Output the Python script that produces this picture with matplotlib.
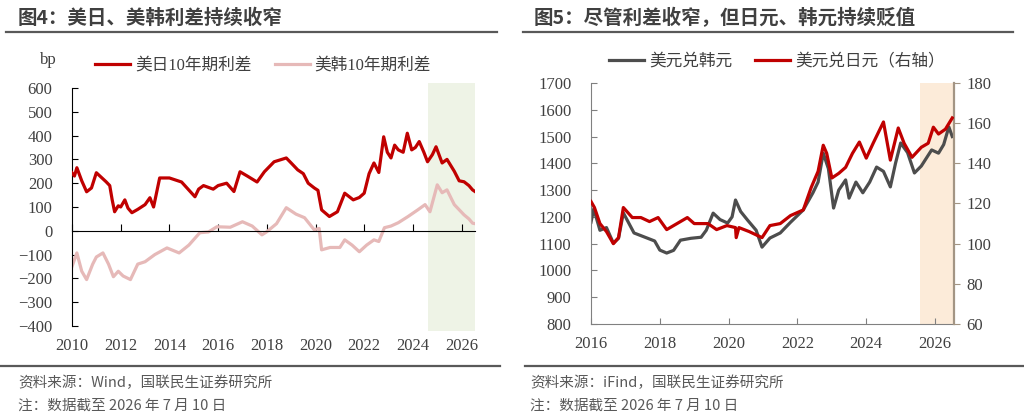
import matplotlib.pyplot as plt
import numpy as np
from matplotlib.lines import Line2D

plt.rcParams['font.family'] = ['Liberation Serif', 'Noto Sans CJK SC']
CJK = ['Noto Sans CJK SC', 'DejaVu Sans']

# ---- left chart data: 10y spreads (bp) ----
us_jp_t = [2010.0, 2010.1, 2010.2, 2010.4, 2010.6, 2010.8, 2011.0, 2011.2, 2011.4, 2011.55,
           2011.65, 2011.75, 2011.9, 2012.0, 2012.17, 2012.3, 2012.46, 2012.7, 2013.0, 2013.2,
           2013.35, 2013.6, 2014.0, 2014.5, 2015.05, 2015.2, 2015.4, 2015.8, 2016.0, 2016.35,
           2016.65, 2016.9, 2017.2, 2017.6, 2017.9, 2018.3, 2018.8, 2019.0, 2019.27, 2019.5,
           2019.7, 2019.95, 2020.1, 2020.25, 2020.57, 2020.9, 2021.2, 2021.55, 2021.8, 2022.0,
           2022.2, 2022.4, 2022.6, 2022.8, 2022.95, 2023.1, 2023.25, 2023.4, 2023.6, 2023.77,
           2023.95, 2024.1, 2024.26, 2024.45, 2024.6, 2024.8, 2024.95, 2025.2, 2025.4, 2025.7,
           2025.9, 2026.1, 2026.3, 2026.45, 2026.55]
us_jp = [244, 230, 265, 210, 164, 180, 244, 225, 206, 190,
         130, 80, 105, 100, 130, 95, 76, 90, 110, 139,
         100, 222, 222, 205, 143, 175, 190, 175, 190, 200,
         165, 248, 230, 205, 248, 290, 306, 285, 256, 240,
         200, 180, 170, 88, 60, 80, 158, 130, 140, 158,
         240, 285, 245, 395, 330, 306, 360, 340, 330, 410,
         340, 350, 375, 330, 290, 320, 353, 285, 300, 250,
         210, 206, 190, 172, 165]

us_kr_t = [2010.0, 2010.2, 2010.4, 2010.6, 2010.85, 2011.0, 2011.27, 2011.5, 2011.7, 2011.9,
           2012.1, 2012.4, 2012.7, 2013.0, 2013.4, 2013.9, 2014.4, 2014.8, 2015.25, 2015.6,
           2015.95, 2016.5, 2017.0, 2017.4, 2017.8, 2018.0, 2018.4, 2018.8, 2019.2, 2019.55,
           2019.95, 2020.15, 2020.25, 2020.6, 2021.0, 2021.2, 2021.5, 2021.8, 2022.1, 2022.4,
           2022.6, 2022.83, 2023.1, 2023.4, 2023.8, 2024.2, 2024.5, 2024.7, 2025.0, 2025.2,
           2025.4, 2025.7, 2026.1, 2026.3, 2026.45, 2026.55]
us_kr = [-150, -93, -170, -205, -140, -110, -93, -140, -193, -170,
         -190, -205, -140, -130, -100, -72, -93, -60, -8, -5,
         17, 15, 38, 20, -17, -4, 30, 97, 70, 55,
         4, 10, -80, -70, -70, -38, -60, -88, -60, -38,
         -45, 13, 20, 34, 60, 88, 110, 80, 193, 160,
         172, 110, 67, 50, 32, 30]

# ---- right chart data: FX ----
krw_t = [2016.0, 2016.08, 2016.26, 2016.45, 2016.65, 2016.8, 2016.94, 2017.25, 2017.65, 2017.85,
         2018.0, 2018.2, 2018.4, 2018.6, 2018.9, 2019.2, 2019.35, 2019.55, 2019.75, 2019.97,
         2020.1, 2020.2, 2020.35, 2020.55, 2020.8, 2020.97, 2021.2, 2021.5, 2021.8, 2022.17,
         2022.45, 2022.6, 2022.75, 2022.9, 2023.05, 2023.2, 2023.4, 2023.5, 2023.7, 2023.9,
         2024.1, 2024.3, 2024.5, 2024.7, 2024.85, 2025.0, 2025.2, 2025.4, 2025.6, 2025.9,
         2026.1, 2026.25, 2026.4, 2026.5]
krw = [1180, 1230, 1150, 1160, 1102, 1120, 1215, 1140, 1120, 1110,
       1076, 1065, 1075, 1113, 1120, 1124, 1150, 1214, 1190, 1177,
       1200, 1263, 1220, 1188, 1150, 1087, 1121, 1140, 1180, 1226,
       1290, 1330, 1438, 1380, 1233, 1300, 1338, 1270, 1330, 1290,
       1330, 1386, 1370, 1312, 1400, 1476, 1440, 1364, 1390, 1450,
       1438, 1470, 1536, 1500]

jpy_t = [2016.0, 2016.1, 2016.26, 2016.45, 2016.65, 2016.8, 2016.94, 2017.2, 2017.45, 2017.7,
         2017.95, 2018.2, 2018.5, 2018.8, 2019.0, 2019.4, 2019.65, 2019.95, 2020.2, 2020.22,
         2020.3, 2020.6, 2020.97, 2021.2, 2021.5, 2021.8, 2022.17, 2022.4, 2022.6, 2022.75,
         2022.85, 2023.0, 2023.2, 2023.4, 2023.6, 2023.8, 2024.0, 2024.2, 2024.5, 2024.7,
         2024.93, 2025.1, 2025.33, 2025.6, 2025.8, 2025.95, 2026.1, 2026.3, 2026.5]
jpy = [121, 118, 110, 106, 100, 103, 118, 113, 113, 111,
       113, 107, 110, 113, 110, 110, 107, 109, 108, 103,
       108, 106, 103, 109, 110, 114, 116.8, 128, 136, 149,
       145, 132.7, 135, 138, 145, 150.6, 142.6, 150, 160.6, 141.6,
       157.6, 150, 143, 148, 150, 158, 154.6, 157, 162.6]

RED = '#C00000'
PINK = '#E6B9B8'
GRAY = '#4D4D4D'
TXT = '#404040'
FS = 12

fig = plt.figure(figsize=(10.24, 4.2), dpi=100)

# ---------- left chart ----------
ax = fig.add_axes([72 / 1024, 94 / 420, 403 / 1024, 238 / 420])
ax.axvspan(2024.6, 2026.55, ymin=-0.02, ymax=1.02, color='#EEF3E6', lw=0, zorder=0, clip_on=False)
l1, = ax.plot(us_jp_t, us_jp, color=RED, lw=2.3, label='美日10年期利差', zorder=3)
l2, = ax.plot(us_kr_t, us_kr, color=PINK, lw=2.3, label='美韩10年期利差', zorder=2)
ax.set_xlim(2010, 2026.55)
ax.set_ylim(-400, 600)
ax.set_yticks(range(-400, 601, 100))
ax.spines['top'].set_visible(False)
ax.spines['right'].set_visible(False)
ax.spines['bottom'].set_position(('data', 0))
ax.spines['left'].set_color('black')
ax.set_xticks(range(2010, 2027, 2))
ax.tick_params(axis='x', direction='in', length=5, labelbottom=False, color='black')
ax.tick_params(axis='y', direction='in', length=4, pad=14, labelsize=FS, labelcolor=TXT)
sec = ax.secondary_xaxis('bottom')
sec.spines['bottom'].set_visible(False)
sec.set_xticks(range(2010, 2027, 2))
sec.tick_params(length=0, pad=9, labelsize=FS, labelcolor=TXT)
fig.text(48 / 1024, 1 - 60 / 420, 'bp', fontsize=FS, color=TXT, ha='center', va='center')
fig.legend(handles=[l1, l2], loc='center left', bbox_to_anchor=(80 / 1024, 1 - 66 / 420),
           ncol=2, frameon=False, fontsize=FS, handlelength=2.1, handletextpad=0.3,
           columnspacing=1.4, labelcolor=TXT)

# ---------- right chart ----------
bx = fig.add_axes([591 / 1024, 96 / 420, 363 / 1024, 241 / 420])
bx.axvspan(2025.55, 2026.55, color='#FCEBD9', lw=0, zorder=0)
g1, = bx.plot(krw_t, krw, color=GRAY, lw=2.3, label='美元兑韩元', zorder=2)
bx.set_xlim(2016, 2026.55)
bx.set_ylim(800, 1700)
bx.set_yticks(range(800, 1701, 100))
bx.set_xticks(range(2016, 2027, 2))
bx.spines['top'].set_visible(False)
bx.spines['right'].set_visible(False)
bx.spines['left'].set_color('#808080')
bx.spines['bottom'].set_color('#808080')
bx.tick_params(axis='x', direction='in', length=4, pad=9, labelsize=FS, labelcolor=TXT, color='#808080')
bx.tick_params(axis='y', direction='in', length=4, pad=14, labelsize=FS, labelcolor=TXT, color='#808080')
bx2 = bx.twinx()
g2, = bx2.plot(jpy_t, jpy, color=RED, lw=2.3, label='美元兑日元（右轴）', zorder=3)
bx2.set_ylim(60, 180)
bx2.set_yticks(range(60, 181, 20))
for s in ['top', 'left', 'bottom']:
    bx2.spines[s].set_visible(False)
bx2.spines['right'].set_color('#A39584')
bx2.spines['right'].set_linewidth(1.6)
bx2.tick_params(axis='y', direction='out', length=4, pad=5, labelsize=FS, labelcolor=TXT, color='#A39584')
fig.legend(handles=[g1, g2], loc='center left', bbox_to_anchor=(594 / 1024, 1 - 62 / 420),
           ncol=2, frameon=False, fontsize=FS, handlelength=2.1, handletextpad=0.3,
           columnspacing=1.4, labelcolor=TXT)

# ---------- titles, rules, footers ----------
fig.text(18 / 1024, 1 - 18 / 420, '图4：美日、美韩利差持续收窄', family=CJK, fontsize=14,
         fontweight='bold', color=TXT, va='center', ha='left')
fig.text(534 / 1024, 1 - 18 / 420, '图5：尽管利差收窄，但日元、韩元持续贬值', family=CJK, fontsize=14,
         fontweight='bold', color=TXT, va='center', ha='left')
for x0, x1 in [(6, 497), (523, 1013)]:
    fig.add_artist(Line2D([x0 / 1024, x1 / 1024], [1 - 32 / 420] * 2, transform=fig.transFigure,
                          color='#595959', lw=1.6))
for x0, x1 in [(0, 500), (525, 1024)]:
    fig.add_artist(Line2D([x0 / 1024, x1 / 1024], [1 - 366 / 420] * 2, transform=fig.transFigure,
                          color='#595959', lw=1.6))
foot = [(18, '资料来源：Wind，国联民生证券研究所'), (530, '资料来源：iFind，国联民生证券研究所')]
for x, s in foot:
    fig.text(x / 1024, 1 - 383 / 420, s, family=CJK, fontsize=10.5, color='#595959', va='center')
    fig.text(x / 1024, 1 - 406 / 420, '注：数据截至 2026 年 7 月 10 日', family=CJK, fontsize=10.5,
             color='#595959', va='center')

fig.savefig('out.png', dpi=100)
